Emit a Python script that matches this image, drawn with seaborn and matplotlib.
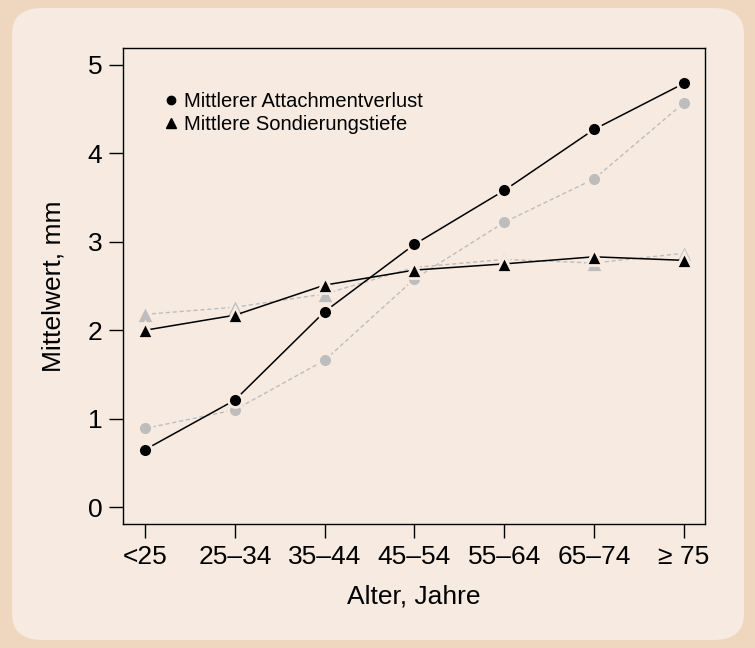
import numpy as np
import pandas as pd
import matplotlib
matplotlib.use("Agg")
import matplotlib.pyplot as plt
import seaborn as sns
from matplotlib.patches import FancyBboxPatch

# age groups and means (mm)
alter = ["<25", "25–34", "35–44", "45–54", "55–64", "65–74", "≥ 75"]
attach_black = [0.65, 1.21, 2.21, 2.97, 3.58, 4.27, 4.79]
sond_black = [2.00, 2.17, 2.51, 2.68, 2.75, 2.83, 2.79]
attach_grey = [0.89, 1.10, 1.66, 2.58, 3.22, 3.71, 4.57]
sond_grey = [2.18, 2.26, 2.41, 2.71, 2.80, 2.76, 2.87]

outer = "#EFD6BF"
inner = "#F6EAE1"
grey = "#BDBDBD"

sns.set_theme(style="ticks")
plt.rcParams["font.family"] = ["Liberation Sans", "DejaVu Sans"]
plt.rcParams["text.color"] = "black"
plt.rcParams["axes.labelcolor"] = "black"

fig = plt.figure(figsize=(7.55, 6.48), dpi=100)
fig.patch.set_facecolor(outer)
panel = FancyBboxPatch((12 / 755, 8 / 648), (744 - 12) / 755, (640 - 8) / 648,
                       boxstyle="round,pad=0,rounding_size=0.04",
                       transform=fig.transFigure, facecolor=inner,
                       edgecolor="none", zorder=-5)
fig.add_artist(panel)

ax = fig.add_axes([123 / 755, 1 - 524 / 648, (705 - 123) / 755, (524 - 48) / 648])
ax.set_zorder(2)
ax.set_facecolor(inner)

df = pd.DataFrame({"alter": alter, "ab": attach_black, "sb": sond_black,
                   "ag": attach_grey, "sg": sond_grey})

# background-coloured marker edge gives the little gap between line and point
kw = dict(markeredgecolor=inner, markeredgewidth=2.0, sort=False, ax=ax)
sns.lineplot(data=df, x="alter", y="ag", color=grey, linestyle=(0, (3, 2)),
             marker="o", markersize=10, lw=1, **kw)
sns.lineplot(data=df, x="alter", y="sg", color=grey, linestyle=(0, (3, 2)),
             marker="^", markersize=12.5, lw=1, **kw)
sns.lineplot(data=df, x="alter", y="ab", color="black", marker="o",
             markersize=10, lw=1.1, **kw)
sns.lineplot(data=df, x="alter", y="sb", color="black", marker="^",
             markersize=12, lw=1.1, **kw)

ax.set_xlim(-0.245, 6.235)
ax.set_ylim(-0.19, 5.19)
ax.set_yticks([0, 1, 2, 3, 4, 5])
ax.set_xticks(range(len(alter)))
ax.set_xticklabels(alter)
ax.tick_params(axis="both", direction="out", length=10, width=1,
               labelsize=19, colors="black", pad=5)
for s in ax.spines.values():
    s.set_visible(True)
    s.set_color("black")
    s.set_linewidth(1)

ax.set_xlabel("Alter, Jahre", fontsize=19, labelpad=11)
ax.set_ylabel("Mittelwert, mm", fontsize=19, labelpad=16)

h1 = plt.Line2D([], [], color="black", marker="o", linestyle="none", markersize=6)
h2 = plt.Line2D([], [], color="black", marker="^", linestyle="none", markersize=7)
ax.legend([h1, h2], ["Mittlerer Attachmentverlust", "Mittlere Sondierungstiefe"],
          loc="upper left", bbox_to_anchor=(0.055, 0.925), frameon=False,
          fontsize=14.5, handlelength=0.8, handletextpad=0.25,
          labelspacing=0.2, borderaxespad=0)

fig.savefig("out.png", dpi=100, facecolor=outer)
